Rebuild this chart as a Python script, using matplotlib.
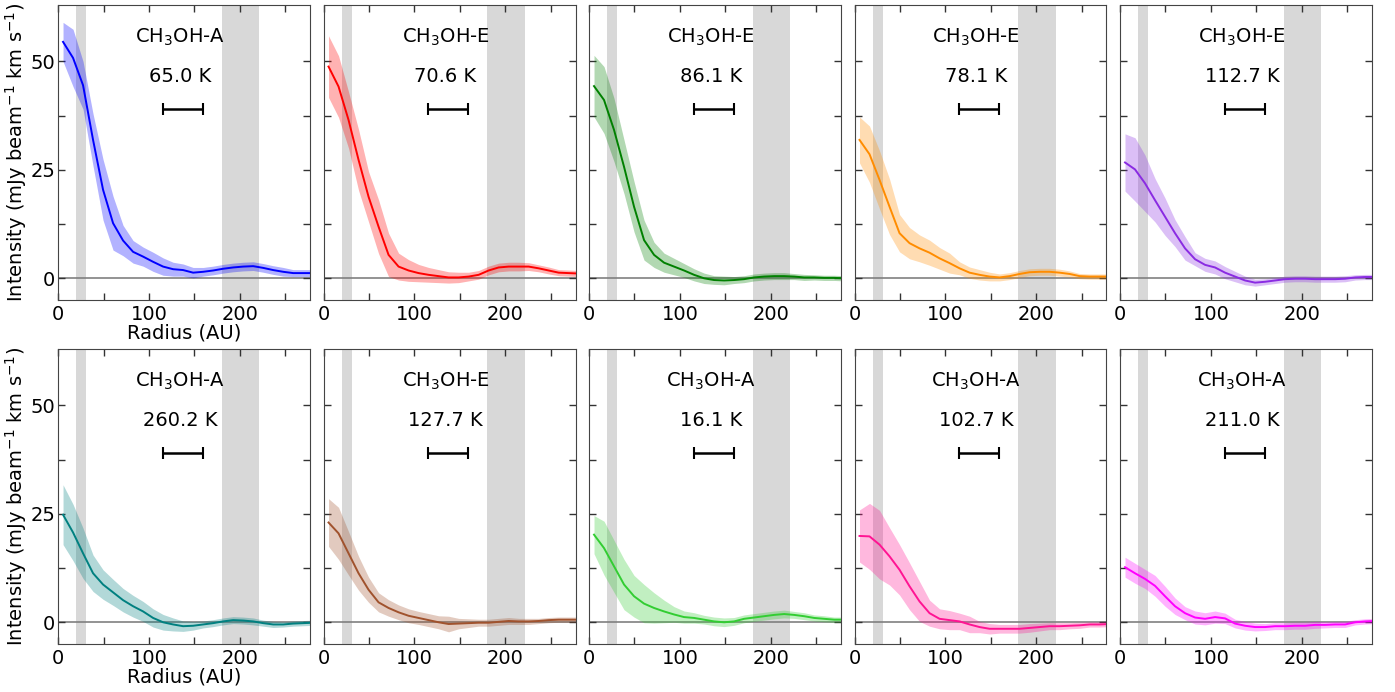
import numpy as np
import matplotlib
matplotlib.use("Agg")
import matplotlib.pyplot as plt

# radial bins (AU)
radius = np.array([5.5, 16.5, 27.5, 38.5, 49.5, 60.5, 71.5, 82.5, 93.5, 104.5,
                   115.5, 126.5, 137.5, 148.5, 159.5, 170.5, 181.5, 192.5, 203.5,
                   214.5, 225.5, 236.5, 247.5, 258.5, 269.5, 280.5])

species = ["A", "E", "E", "E", "E", "A", "E", "A", "A", "A"]
eup = ["65.0", "70.6", "86.1", "78.1", "112.7", "260.2", "127.7", "16.1", "102.7", "211.0"]
colors = ["blue", "red", "green", "darkorange", "blueviolet",
          "teal", "sienna", "limegreen", "deeppink", "magenta"]

# azimuthally averaged intensity and 1-sigma (mJy/beam km/s)
prof_65 = [54.5, 50.8, 44.5, 31.9, 20.4, 12.7, 8.7, 6.1, 5.0, 3.8, 2.7, 2.1, 1.9,
           1.3, 1.5, 1.8, 2.2, 2.5, 2.7, 2.8, 2.4, 1.9, 1.5, 1.2, 1.2, 1.2]
err_65 = [4.5, 6.6, 5.5, 6.0, 7.0, 6.2, 3.5, 2.6, 2.2, 2.2, 2.0, 1.6, 1.4,
          1.2, 1.0, 1.0, 1.0, 1.0, 1.0, 1.0, 1.0, 1.0, 1.0, 0.8, 0.8, 0.8]
prof_71 = [48.8, 44.2, 36.5, 27.3, 18.8, 11.9, 5.4, 2.7, 1.8, 1.2, 0.8, 0.5, 0.2,
           0.2, 0.4, 0.8, 1.8, 2.5, 2.7, 2.7, 2.7, 2.3, 1.8, 1.3, 1.2, 1.1]
err_71 = [7.1, 7.1, 6.5, 7.0, 5.8, 6.2, 5.0, 3.1, 2.5, 2.0, 1.7, 1.5, 1.3,
          1.2, 1.0, 1.0, 1.0, 1.0, 1.0, 1.0, 0.9, 0.8, 0.8, 0.7, 0.7, 0.7]
prof_86 = [44.3, 41.1, 34.2, 25.7, 16.5, 8.8, 5.4, 3.6, 2.7, 1.8, 0.8, 0.0, -0.4,
           -0.5, -0.4, -0.2, 0.2, 0.4, 0.5, 0.5, 0.4, 0.2, 0.2, 0.1, 0.1, 0.0]
err_86 = [7.1, 7.7, 7.3, 6.2, 5.8, 4.6, 2.9, 2.2, 1.9, 1.6, 1.4, 1.2, 1.0,
          1.0, 0.8, 0.8, 0.8, 0.8, 0.8, 0.8, 0.7, 0.7, 0.6, 0.6, 0.6, 0.6]
prof_78 = [31.9, 28.6, 22.7, 16.5, 10.4, 8.1, 6.9, 5.9, 4.6, 3.5, 2.3, 1.3, 0.8,
           0.4, 0.2, 0.5, 1.0, 1.4, 1.5, 1.5, 1.3, 1.0, 0.5, 0.4, 0.4, 0.4]
err_78 = [5.3, 6.5, 6.7, 6.4, 4.3, 3.6, 3.1, 2.9, 2.5, 2.3, 1.5, 1.3, 1.2,
          1.0, 0.8, 0.8, 0.8, 0.8, 0.8, 0.8, 0.8, 0.7, 0.6, 0.6, 0.6, 0.6]
prof_113 = [26.7, 25.1, 21.9, 18.0, 14.2, 10.4, 6.9, 4.4, 3.1, 2.5, 1.3, 0.4, -0.5,
            -1.0, -0.8, -0.5, -0.2, -0.1, -0.1, -0.2, -0.2, -0.2, -0.1, 0.2, 0.3, 0.3]
err_113 = [6.6, 7.3, 6.5, 5.0, 4.3, 3.1, 2.7, 1.5, 1.5, 1.5, 1.4, 1.2, 1.0,
           0.8, 0.7, 0.7, 0.7, 0.7, 0.7, 0.7, 0.7, 0.7, 0.7, 0.6, 0.6, 0.6]
prof_260 = [24.8, 20.7, 15.9, 11.3, 8.7, 6.9, 5.1, 3.7, 2.5, 1.0, 0.0, -0.5, -0.9,
            -0.8, -0.5, -0.2, 0.2, 0.5, 0.4, 0.2, -0.2, -0.5, -0.5, -0.3, -0.2, -0.1]
err_260 = [6.9, 6.5, 5.8, 4.2, 3.4, 3.0, 2.7, 2.5, 2.3, 2.1, 1.8, 1.5, 1.2,
           1.0, 0.8, 0.8, 0.8, 0.8, 0.8, 0.8, 0.7, 0.7, 0.6, 0.6, 0.6, 0.6]
prof_128 = [23.0, 20.5, 15.9, 11.3, 7.5, 4.6, 3.3, 2.3, 1.5, 1.0, 0.5, 0.0, -0.4,
            -0.3, -0.2, -0.1, -0.1, 0.1, 0.3, 0.2, 0.2, 0.3, 0.5, 0.6, 0.6, 0.6]
err_128 = [5.5, 6.0, 5.0, 3.9, 2.9, 2.2, 1.9, 1.7, 1.6, 1.5, 1.5, 1.5, 1.8,
           1.2, 1.0, 0.8, 0.8, 0.8, 0.8, 0.7, 0.7, 0.6, 0.6, 0.6, 0.6, 0.6]
prof_16 = [20.2, 17.1, 12.9, 8.7, 6.0, 4.3, 3.3, 2.5, 1.8, 1.2, 1.0, 0.6, 0.2,
           0.0, 0.2, 0.8, 1.1, 1.4, 1.7, 1.9, 1.7, 1.4, 1.0, 0.8, 0.6, 0.6]
err_16 = [4.4, 6.2, 6.0, 5.8, 4.8, 4.4, 3.5, 2.6, 1.8, 1.4, 1.2, 1.0, 1.0,
          1.0, 0.9, 0.9, 0.9, 0.9, 0.9, 0.9, 0.8, 0.8, 0.7, 0.7, 0.6, 0.6]
prof_103 = [19.9, 19.8, 17.9, 15.2, 12.1, 8.3, 4.8, 2.1, 0.8, 0.5, 0.2, -0.5, -1.1,
            -1.5, -1.5, -1.5, -1.5, -1.3, -1.1, -0.9, -0.9, -0.8, -0.7, -0.5, -0.5, -0.4]
err_103 = [6.0, 7.6, 7.9, 6.6, 5.8, 5.4, 4.6, 3.0, 2.3, 2.2, 1.9, 1.9, 1.3,
           1.2, 1.0, 1.0, 1.0, 1.0, 0.9, 0.8, 0.8, 0.7, 0.7, 0.6, 0.6, 0.6]
prof_211 = [12.7, 11.3, 10.0, 8.4, 6.0, 3.7, 2.1, 1.1, 0.8, 1.2, 0.9, -0.3, -0.8,
            -1.1, -1.1, -0.9, -0.9, -0.8, -0.8, -0.6, -0.6, -0.5, -0.5, 0.0, 0.2, 0.3]
err_211 = [2.3, 2.3, 2.2, 2.4, 2.3, 1.9, 1.5, 1.5, 1.4, 1.4, 1.2, 1.0, 1.0,
           0.9, 0.8, 0.8, 0.8, 0.8, 0.8, 0.8, 0.7, 0.7, 0.7, 0.6, 0.6, 0.6]

profiles = [prof_65, prof_71, prof_86, prof_78, prof_113,
            prof_260, prof_128, prof_16, prof_103, prof_211]
errors = [err_65, err_71, err_86, err_78, err_113,
          err_260, err_128, err_16, err_103, err_211]

# dust gaps and beam size
gaps = [(20, 31), (180, 221)]
beam_center, beam_half = 137, 22

plt.rcParams['font.size'] = 14

fig, axes = plt.subplots(2, 5, figsize=(13.95, 6.92), dpi=100, sharey=True)
fig.subplots_adjust(left=0.0416, right=0.9835, top=0.9928, bottom=0.0694,
                    wspace=0.0536, hspace=0.166)

for i, ax in enumerate(axes.flat):
    y = np.array(profiles[i])
    e = np.array(errors[i])
    for g0, g1 in gaps:
        ax.axvspan(g0, g1, color='#d8d8d8', lw=0, zorder=0)
    ax.axhline(0, color='grey', lw=1.2, zorder=1)
    ax.fill_between(radius, y - e, y + e, color=colors[i], alpha=0.3, lw=0, zorder=2)
    ax.plot(radius, y, color=colors[i], lw=1.4, zorder=3)
    ax.errorbar(beam_center, 39, xerr=beam_half, color='black', lw=1.8,
                capsize=4, capthick=1.5, zorder=4)
    ax.text(134, 55.6, r"CH$_3$OH-" + species[i], ha='center', va='center', fontsize=14)
    ax.text(134, 46.4, eup[i] + " K", ha='center', va='center', fontsize=14)

    ax.set_xlim(0, 277)
    ax.set_ylim(-5, 63)
    ax.set_xticks([0, 100, 200])
    ax.set_xticks([50, 150, 250], minor=True)
    ax.set_yticks([0, 25, 50])
    ax.set_yticks([12.5, 37.5], minor=True)
    ax.tick_params(which='both', direction='in', top=True, right=True,
                   length=5, width=1, labelsize=14, color='#333333')
    ax.tick_params(axis='y', pad=2)
    for s in ax.spines.values():
        s.set_color('#444444')
    if i % 5 == 0:
        ax.set_ylabel(r"Intensity (mJy beam$^{-1}$ km s$^{-1}$)", fontsize=14, labelpad=1)
        ax.set_xlabel("Radius (AU)", fontsize=14, labelpad=0)
    else:
        ax.tick_params(labelleft=False)

fig.savefig("out.png", dpi=100)
